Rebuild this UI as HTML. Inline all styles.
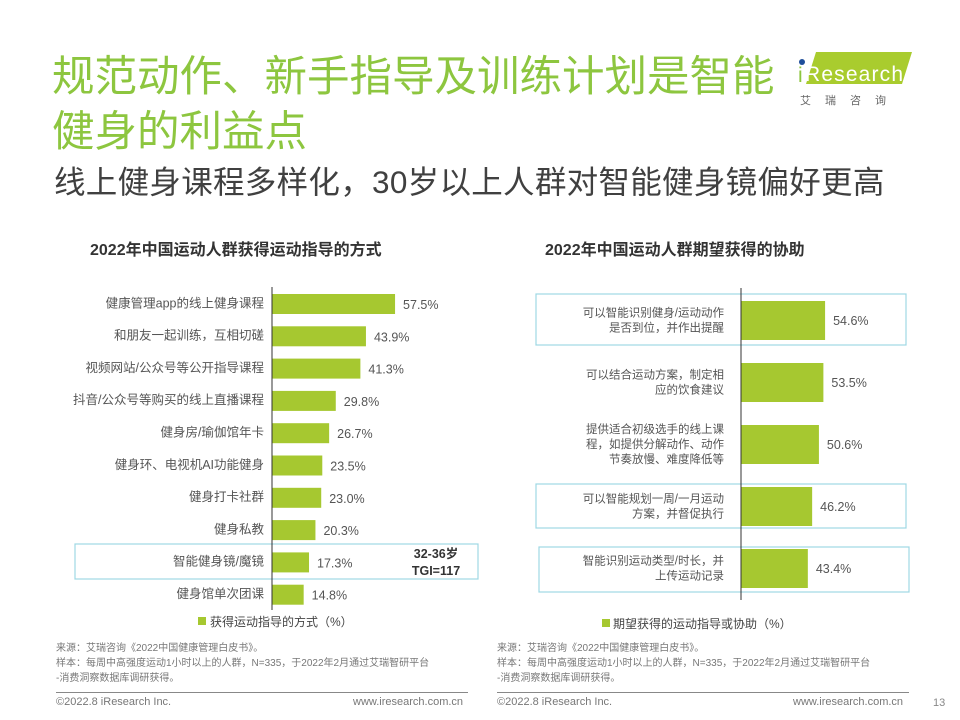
<!DOCTYPE html>
<html><head><meta charset="utf-8"><style>
body{margin:0;width:960px;height:720px;background:#fff;overflow:hidden;font-family:"Liberation Sans","Noto Sans CJK SC",sans-serif;position:relative}
.t{position:absolute;white-space:nowrap}
</style></head><body>
<div class="t" style="left:52px;top:50px;font-size:42.5px;line-height:55px;color:#8dc63f;letter-spacing:0px">规范动作、新手指导及训练计划是智能<br>健身的利益点</div>
<div class="t" style="left:54px;top:157px;font-size:31.5px;color:#404040;letter-spacing:0.3px">线上健身课程多样化，30岁以上人群对智能健身镜偏好更高</div>
<div style="position:absolute;left:794px;top:50px;width:120px;height:60px">
<svg width="120" height="60"><polygon points="22,2 118,2 108,34 12,34" fill="#a9cc2e"/><circle cx="8" cy="12" r="3" fill="#1f4e9a"/><text x="4" y="32" font-size="21" fill="#8dc63f" font-family="Liberation Sans">i</text><text x="11" y="31" font-size="21" fill="#fff" font-family="Liberation Sans" textLength="98">Research</text><text x="6" y="54" font-size="11" fill="#666" font-family="Noto Sans CJK SC" letter-spacing="14">艾瑞咨询</text></svg></div>
<div class="t" style="left:90px;top:236px;font-size:16px;font-weight:bold;color:#333">2022年中国运动人群获得运动指导的方式</div>
<div class="t" style="left:545px;top:236px;font-size:16px;font-weight:bold;color:#333">2022年中国运动人群期望获得的协助</div>
<svg id="c" width="960" height="720" style="position:absolute;left:0;top:0" font-family="Liberation Sans, Noto Sans CJK SC, sans-serif"></svg>
<div class="t" style="left:56px;top:641px;font-size:10px;line-height:15px;color:#777">来源：艾瑞咨询《2022中国健康管理白皮书》。<br>样本：每周中高强度运动1小时以上的人群，N=335，于2022年2月通过艾瑞智研平台<br>-消费洞察数据库调研获得。</div>
<div class="t" style="left:497px;top:641px;font-size:10px;line-height:15px;color:#777">来源：艾瑞咨询《2022中国健康管理白皮书》。<br>样本：每周中高强度运动1小时以上的人群，N=335，于2022年2月通过艾瑞智研平台<br>-消费洞察数据库调研获得。</div>
<div style="position:absolute;left:56px;top:692px;width:412px;height:1px;background:#888"></div>
<div style="position:absolute;left:497px;top:692px;width:412px;height:1px;background:#888"></div>
<div class="t" style="left:56px;top:696px;font-size:11px;color:#777">©2022.8 iResearch Inc.</div>
<div class="t" style="left:353px;top:696px;font-size:11px;color:#777">www.iresearch.com.cn</div>
<div class="t" style="left:497px;top:696px;font-size:11px;color:#777">©2022.8 iResearch Inc.</div>
<div class="t" style="left:793px;top:696px;font-size:11px;color:#777">www.iresearch.com.cn</div>
<div class="t" style="left:933px;top:697px;font-size:11px;color:#888">13</div>
<script>
const leftCats=["健康管理app的线上健身课程","和朋友一起训练，互相切磋","视频网站/公众号等公开指导课程","抖音/公众号等购买的线上直播课程","健身房/瑜伽馆年卡","健身环、电视机AI功能健身","健身打卡社群","健身私教","智能健身镜/魔镜","健身馆单次团课"];
const leftVals=[57.5,43.9,41.3,29.8,26.7,23.5,23.0,20.3,17.3,14.8];
const rightCats=[["可以智能识别健身/运动动作","是否到位，并作出提醒"],["可以结合运动方案，制定相","应的饮食建议"],["提供适合初级选手的线上课","程，如提供分解动作、动作","节奏放慢、难度降低等"],["可以智能规划一周/一月运动","方案，并督促执行"],["智能识别运动类型/时长，并","上传运动记录"]];
const rightVals=[54.6,53.5,50.6,46.2,43.4];
const NS="http://www.w3.org/2000/svg",svg=document.getElementById('c'),G="#a6c830";
function mk(t,a,p){const e=document.createElementNS(NS,t);for(const k in a)e.setAttribute(k,a[k]);(p||svg).appendChild(e);return e;}
const lx=v=>272+v*2.14, ly=i=>294+i*32.3;
const lbox=mk('rect',{x:75,y:544,width:403,height:35,fill:'none',stroke:'#9fd8e4','stroke-width':1.2});


leftVals.forEach((v,i)=>{
 const r=mk('rect',{x:272,y:ly(i),width:lx(v)-272,height:20,fill:G});
 
 
 const t=mk('text',{x:lx(v)+8,y:ly(i)+15,'font-size':12.5,fill:'#555'});t.textContent=v.toFixed(1)+'%';
 
 
 const c=mk('text',{x:264,y:ly(i)+10,'font-size':12.5,fill:'#555','text-anchor':'end','dominant-baseline':'middle'});c.textContent=leftCats[i];
 
 
});
const la=mk('line',{x1:272,y1:287,x2:272,y2:610,stroke:'#333','stroke-width':1});


const tg=mk('text',{x:436,y:558,'font-size':12.5,'font-weight':'bold',fill:'#333','text-anchor':'middle'});tg.textContent='32-36岁';


const tg2=mk('text',{x:436,y:575,'font-size':12.5,'font-weight':'bold',fill:'#333','text-anchor':'middle'});tg2.textContent='TGI=117';


const lg=mk('rect',{x:198,y:617,width:8,height:8,fill:G});


const lgt=mk('text',{x:210,y:626,'font-size':12,fill:'#444'});lgt.textContent='获得运动指导的方式（%）';


const rx=v=>741+v*1.54, ry=i=>301+i*62;
[[536,294,370,51],[536,484,370,44],[539,547,370,45]].forEach(b=>{
 const r=mk('rect',{x:b[0],y:b[1],width:b[2],height:b[3],fill:'none',stroke:'#9fd8e4','stroke-width':1.2});
 
 
});
rightVals.forEach((v,i)=>{
 const r=mk('rect',{x:741,y:ry(i),width:rx(v)-741,height:39,fill:G});
 
 
 const t=mk('text',{x:rx(v)+8,y:ry(i)+24,'font-size':12.5,fill:'#555'});t.textContent=v.toFixed(1)+'%';
 
 
 const L=rightCats[i],y0=ry(i)+20-(L.length-1)*7.5;
 L.forEach((s,j)=>{const c=mk('text',{x:724,y:y0+j*15,'font-size':11.5,fill:'#555','text-anchor':'end','dominant-baseline':'middle'});c.textContent=s;
  
  });
});
const ra=mk('line',{x1:741,y1:288,x2:741,y2:600,stroke:'#333','stroke-width':1});


const rg=mk('rect',{x:602,y:619,width:8,height:8,fill:G});


const rgt=mk('text',{x:613,y:628,'font-size':12,fill:'#444'});rgt.textContent='期望获得的运动指导或协助（%）';


</script>
</body></html>
